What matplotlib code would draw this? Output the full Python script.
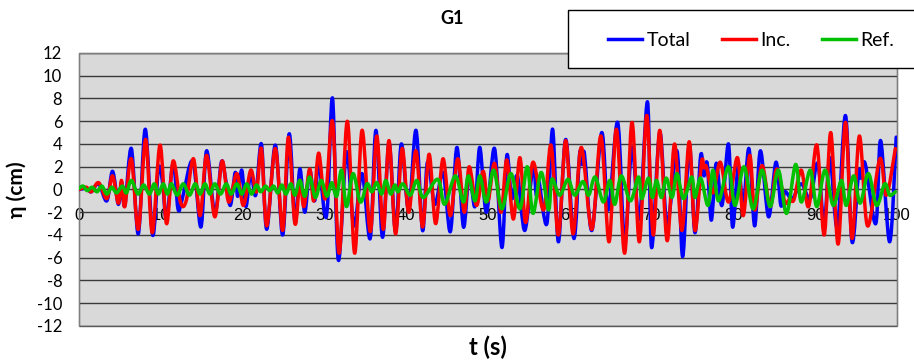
import numpy as np
import matplotlib
matplotlib.use("Agg")
import matplotlib.pyplot as plt
from matplotlib.path import Path
from matplotlib.patches import PathPatch, Rectangle
from matplotlib.lines import Line2D

plt.rcParams["axes.unicode_minus"] = False

# ------------------ DATA (turning points) ------------------

x_ticks = list(range(0, 101, 10))
y_ticks = list(range(-12, 13, 2))

total_pts = [
    (0.0, 0.0), (0.9, 0.1), (1.5, -0.2), (2.4, 0.5), (3.4, -1.0), (4.1, 1.6), (4.8, -1.3),
    (5.2, 0.6), (5.6, -1.4), (6.4, 3.6), (7.25, -3.9), (8.1, 5.3), (9.0, -4.0), (9.7, 1.8),
    (10.2, 0.7), (10.7, -2.6), (11.5, 2.3), (12.1, -1.7), (12.6, -0.9), (13.9, 2.5), (14.9, -3.3),
    (15.6, 3.4), (16.6, -2.1), (17.4, 2.4), (17.9, 1.0), (18.5, -1.4), (19.1, 1.5), (19.4, -0.6),
    (19.9, 1.7), (20.4, -1.5), (21.0, 1.5), (21.6, -0.5), (22.3, 4.0), (22.95, -3.5), (24.0, 3.9),
    (24.9, -4.0), (25.7, 4.9), (26.4, -2.9), (27.0, 1.8), (27.6, -2.0), (28.2, 1.7), (28.8, -1.0),
    (29.3, 2.4), (30.0, -2.0), (30.4, -1.2), (31.0, 8.0), (31.7, -6.2), (32.7, 3.3), (33.6, -3.2),
    (34.6, 1.4), (35.6, -4.3), (36.3, 5.2), (37.1, -4.2), (37.9, 4.1), (38.7, -3.7), (39.4, 4.0),
    (40.3, -1.8), (41.2, 5.2), (42.0, -3.6), (42.6, 2.4), (43.5, -1.3), (44.5, 1.5), (45.4, -3.7),
    (46.2, 3.7), (47.0, -3.3), (47.7, 1.4), (48.4, -1.5), (49.0, 3.7), (49.8, -2.0), (50.8, 3.6),
    (51.7, -5.1), (52.3, 3.0), (52.9, -0.8), (53.6, 1.2), (54.5, -3.6), (55.5, 2.1), (55.9, -0.5),
    (56.2, 0.8), (57.2, -3.0), (57.9, 5.3), (58.6, -4.6), (59.5, 4.4), (60.5, -4.3), (61.2, 3.1),
    (61.5, 2.2), (61.8, 3.1), (62.7, -3.6), (63.9, 5.0), (64.7, -1.8), (65.85, 5.9), (66.7, -4.6),
    (67.6, 3.7), (68.5, -2.6), (69.5, 7.7), (70.0, -5.1), (71.0, 5.0), (71.9, -3.1), (73.1, 3.4),
    (73.8, -5.9), (74.6, 3.9), (75.3, -3.8), (76.0, 3.0), (76.4, 1.2), (76.8, 2.3), (77.3, -2.7),
    (77.9, 2.3), (78.6, -1.4), (79.4, 4.0), (79.9, -3.3), (80.6, 2.1), (81.2, -1.5), (81.9, 3.6),
    (82.6, -3.2), (83.3, 3.4), (84.3, -2.4), (85.2, 2.4), (85.8, -1.4), (86.3, -0.2), (87.2, -0.8),
    (88.3, 0.5), (89.4, -0.8), (90.3, 2.3), (91.1, -2.9), (91.8, 2.8), (92.7, -3.3), (93.7, 6.5),
    (94.5, -4.6), (95.3, 1.5), (95.6, 1.0), (96.1, 2.3), (97.4, -3.0), (98.0, 4.3), (99.1, -4.6),
    (99.9, 4.6),
]

inc_pts = [
    (0.0, 0.0), (0.9, 0.2), (1.5, -0.2), (2.4, 0.6), (3.4, -0.8), (4.1, 1.2), (4.8, -1.2),
    (5.2, 0.8), (5.6, -1.5), (6.4, 2.7), (7.25, -3.5), (8.15, 4.4), (8.95, -3.8), (9.9, 3.9),
    (10.7, -3.0), (11.5, 2.5), (12.4, -1.1), (13.1, -1.0), (14.0, 2.7), (14.8, -2.3), (15.6, 3.0),
    (16.6, -2.4), (17.5, 2.5), (18.3, -1.1), (19.3, 1.4), (20.1, -1.4), (21.0, 1.7), (21.7, -0.2),
    (22.3, 3.6), (22.95, -3.2), (24.0, 3.6), (24.9, -3.6), (25.6, 4.6), (26.4, -3.0), (27.0, 0.8),
    (27.5, -1.5), (28.2, 1.8), (28.7, -1.0), (29.3, 3.2), (30.1, -0.8), (31.0, 6.0), (31.8, -5.6),
    (32.8, 6.0), (33.7, -5.6), (34.6, 5.2), (35.6, -3.7), (36.4, 4.7), (37.2, -3.5), (37.9, 4.3),
    (38.7, -3.9), (39.5, 3.6), (40.3, -2.0), (41.2, 3.4), (42.0, -3.3), (42.8, 3.1), (43.6, -3.0),
    (44.5, 2.7), (45.4, -2.3), (46.3, 2.7), (47.1, -2.0), (47.7, 2.0), (48.6, -1.4), (49.4, 1.6),
    (50.0, -1.0), (50.8, 2.3), (51.6, -2.0), (52.3, 2.6), (53.1, -2.6), (53.9, 2.8), (54.6, -2.9),
    (55.5, 2.4), (56.8, -1.8), (57.7, 3.9), (58.6, -4.0), (59.5, 4.3), (60.4, -3.9), (61.4, 3.7),
    (62.7, -3.5), (63.8, 4.7), (64.8, -4.6), (65.7, 5.3), (66.7, -5.6), (67.6, 5.9), (68.5, -4.6),
    (69.4, 6.5), (70.2, -4.0), (71.0, 5.2), (71.9, -4.5), (72.8, 4.0), (73.7, -3.6), (74.6, 4.2),
    (75.3, -3.6), (76.1, 2.4), (76.4, 1.9), (76.7, 2.0), (77.5, -0.3), (78.4, 2.4), (79.4, -1.1),
    (80.5, 2.8), (81.2, -2.3), (82.0, 3.0), (82.6, -1.8), (83.5, 2.1), (84.5, -1.5), (85.3, 1.8),
    (86.3, -1.1), (86.9, -0.8), (87.4, -0.9), (88.3, 1.7), (89.2, -1.5), (90.2, 3.9), (91.1, -4.0),
    (91.9, 5.0), (92.8, -4.8), (93.7, 5.9), (94.5, -4.3), (95.4, 4.7), (96.4, -3.2), (97.9, 2.7),
    (98.7, -0.5), (99.8, 3.6),
]

ref_pts = [
    (0.0, 0.1), (0.5, 0.3), (1.0, -0.1), (1.6, 0.2), (2.2, -0.2), (2.8, 0.3), (3.4, -0.4),
    (4.0, 0.2), (4.6, -0.3), (5.3, 0.3), (5.8, -0.3), (6.4, 0.8), (7.2, -0.4), (7.9, 0.4),
    (8.6, -0.4), (9.2, 0.5), (9.7, -0.4), (10.3, 0.5), (10.8, -0.4), (11.3, 0.5), (12.0, -0.5),
    (12.75, 0.5), (13.5, -0.5), (14.2, 0.5), (14.8, -0.4), (15.4, 0.5), (16.0, -0.4), (16.6, 0.5),
    (17.3, -0.4), (18.0, 0.5), (18.6, -0.4), (19.3, 0.5), (19.9, -0.4), (20.5, 0.5), (21.1, -0.4),
    (21.7, 0.4), (22.2, -0.2), (22.8, 0.3), (23.3, -0.1), (23.8, 0.3), (24.3, -0.3), (24.8, 0.4),
    (25.3, -0.4), (25.9, 0.5), (26.4, -0.5), (27.0, 0.8), (27.6, -0.6), (28.2, 1.1), (28.9, -0.7),
    (29.6, 0.8), (30.3, -0.6), (30.9, 0.6), (31.5, -0.6), (32.1, 1.7), (32.7, -1.5), (33.5, 1.4),
    (34.4, -1.1), (35.2, 0.5), (35.8, -0.2), (36.4, 0.6), (37.0, -0.4), (37.5, 0.8), (38.1, -0.4),
    (38.6, 0.4), (39.0, -0.2), (39.6, 0.5), (40.5, -0.5), (41.3, 0.8), (42.1, -0.7), (43.85, 0.9),
    (44.7, -1.3), (46.0, 1.2), (47.0, -1.1), (47.6, 1.2), (48.4, -1.0), (49.0, 1.2), (49.8, -1.1),
    (50.7, 1.7), (51.7, -1.7), (52.8, 1.4), (53.9, -1.7), (54.8, 2.0), (55.5, -2.1), (56.5, 1.5),
    (57.4, -1.8), (57.8, 0.9), (58.6, -0.4), (59.0, -0.3), (59.8, 0.9), (60.6, -0.5), (61.6, 0.7),
    (62.3, -0.5), (63.1, 1.1), (64.1, -1.1), (64.9, 0.8), (65.5, -1.3), (66.3, 1.2), (67.4, -1.0),
    (68.4, 1.1), (68.8, -0.8), (69.6, 1.0), (70.1, -0.7), (70.6, 0.8), (71.2, -0.7), (71.8, 1.0),
    (72.5, -0.7), (73.1, 1.4), (73.9, -0.8), (74.9, 1.1), (75.3, -0.7), (76.0, 1.0), (76.9, -1.4),
    (77.5, 1.7), (78.2, -1.0), (79.4, 2.0), (80.2, -1.4), (81.3, 2.0), (82.4, -1.7), (83.5, 1.7),
    (84.5, -1.5), (85.5, 1.7), (86.5, -2.1), (87.6, 2.2), (88.3, -1.1), (89.4, 1.7), (90.2, -1.5),
    (91.2, 1.7), (92.2, -1.4), (93.2, 0.8), (93.8, -1.4), (94.7, 1.2), (95.5, -1.2), (96.5, 1.4),
    (97.5, -1.4), (98.5, 0.5), (99.1, -0.5), (99.8, -0.2),
]

series = [
    ("Total", total_pts, "#0000ff"),
    ("Inc.", inc_pts, "#ff0000"),
    ("Ref.", ref_pts, "#00c000"),
]


# Excel-style smoothed line through the points (cubic Bezier, Catmull-Rom tangents)
def smooth_path(pts):
    p = np.array(pts, dtype=float)
    ext = np.vstack([p[0], p, p[-1]])
    verts = [p[0]]
    codes = [Path.MOVETO]
    for i in range(len(p) - 1):
        p0, p1, p2, p3 = ext[i], ext[i + 1], ext[i + 2], ext[i + 3]
        verts += [p1 + (p2 - p0) / 6, p2 - (p3 - p1) / 6, p2]
        codes += [Path.CURVE4] * 3
    return Path(verts, codes)


# ------------------ PLOT ------------------

W, H = 914, 363
fig = plt.figure(figsize=(W / 100, H / 100), dpi=100)
ax = fig.add_axes([79 / W, 1 - 326 / H, 818 / W, 273 / H])
ax.set_facecolor("#d9d9d9")
ax.set_xlim(0, 100)
ax.set_ylim(-12, 12)

ax.set_yticks(y_ticks)
ax.set_xticks(x_ticks)
ax.yaxis.grid(True, color="#3a3a3a", linewidth=1.0)
ax.set_axisbelow(True)

for side in ["top", "left", "right"]:
    ax.spines[side].set_color("#7f7f7f")
ax.spines["bottom"].set_position(("data", 0))
ax.spines["bottom"].set_color("#3a3a3a")
ax.add_patch(Rectangle((0, 0), 1, 1, transform=ax.transAxes, fill=False,
                       edgecolor="#5a5a5a", linewidth=1.0, clip_on=False, zorder=1))

ax.tick_params(axis="y", length=0, pad=12, labelsize=12)
ax.tick_params(axis="x", length=0, pad=13, labelsize=12)
for lab in ax.get_yticklabels():
    lab.set_family("Lato")
for lab in ax.get_xticklabels():
    lab.set_family("Liberation Sans")

for i, (name, pts, color) in enumerate(series):
    ax.add_patch(PathPatch(smooth_path(pts), fill=False, edgecolor=color,
                           linewidth=2.5, joinstyle="round", capstyle="round", zorder=3 + i))

fig.text(452 / W, 1 - 18 / H, "G1", ha="center", va="center",
         fontsize=13, fontweight="bold", family="Lato")
fig.text(488 / W, 1 - 347 / H, "t (s)", ha="center", va="center",
         fontsize=17, fontweight="bold", family="Lato")
fig.text(17 / W, 1 - 190 / H, "η (cm)", ha="center", va="center", rotation=90,
         fontsize=15, fontweight="bold", family="Lato")

# legend box sits in the top-right corner and runs off the figure edge
fig.patches.append(Rectangle((568 / W, 1 - 68 / H), 0.5, 58 / H, transform=fig.transFigure,
                             facecolor="white", edgecolor="black", linewidth=1.0))
handles = [Line2D([], [], color=c, linewidth=2.5) for _, _, c in series]
fig.legend(handles, [n for n, _, _ in series], ncol=3, frameon=False,
           loc="center left", bbox_to_anchor=(598 / W, 1 - 40 / H),
           prop={"family": "Lato", "size": 14}, borderpad=0,
           handlelength=1.75, handletextpad=0.25, columnspacing=1.6)

fig.savefig("out.png", dpi=100)
